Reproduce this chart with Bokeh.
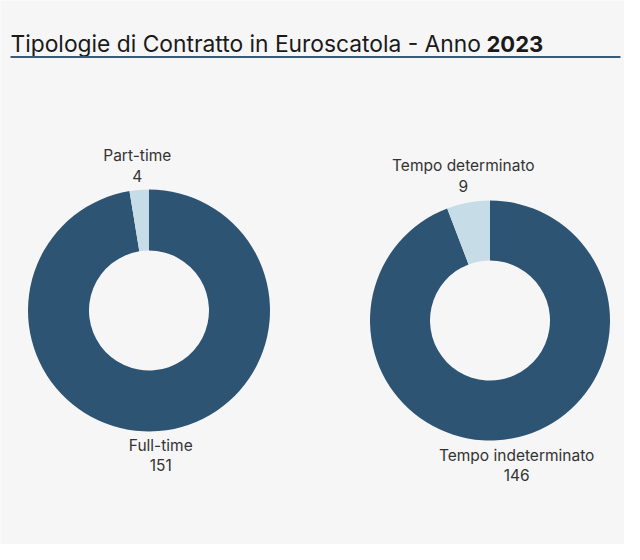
import math
from bokeh.plotting import figure
from bokeh.models import ColumnDataSource
from bokeh.core.properties import value
from bokeh.embed import file_html
from bokeh.resources import INLINE

# ---- data ----
title_main = "Tipologie di Contratto in Euroscatola - Anno "
title_year = "2023"
chart1_labels = ["Full-time", "Part-time"]
chart1_values = [151, 4]
chart2_labels = ["Tempo indeterminato", "Tempo determinato"]
chart2_values = [146, 9]
slice_colors = ["#2e5474", "#c6dce7"]

W, H = 624, 544
BG = "#f6f6f6"
FONT = "Inter"

p = figure(width=W, height=H, x_range=(0, W), y_range=(0, H),
           output_backend="svg", toolbar_location=None,
           background_fill_color=BG, border_fill_color=BG,
           min_border=0, outline_line_color=None)
p.axis.visible = False
p.grid.visible = False

def Y(y_img):
    return H - (y_img - 8)

def X(x_img):
    return x_img - 8

# title
p.text(x=[X(18)], y=[Y(51)], text=[title_main], text_font=value(FONT),
       text_font_size="22.8px", text_color="#1a1a1a", text_baseline="alphabetic")
p.text(x=[X(494)], y=[Y(51)], text=[title_year], text_font=value(FONT),
       text_font_size="22px", text_font_style="bold", text_color="#1a1a1a",
       text_baseline="alphabetic")
p.segment(x0=[X(18)], y0=[Y(64.5)], x1=[X(628)], y1=[Y(64.5)],
          line_color="#3a5a76", line_width=2)

def donut(cx, cy, r_out, r_in, labels, values, label_r):
    total = sum(values)
    starts, ends, mids = [], [], []
    a = math.pi / 2
    for v in values:
        sweep = 2 * math.pi * v / total
        starts.append(a)
        ends.append(a - sweep)
        mids.append(a - sweep / 2)
        a -= sweep
    src = ColumnDataSource(dict(start=starts, end=ends, color=slice_colors[:len(values)]))
    p.annular_wedge(x=cx, y=cy, inner_radius=r_in, outer_radius=r_out,
                    start_angle="start", end_angle="end", direction="clock",
                    fill_color="color", line_color=None, source=src)
    for lab, v, m in zip(labels, values, mids):
        lx = cx + label_r * math.cos(m)
        ly = cy + label_r * math.sin(m)
        p.text(x=[lx, lx], y=[ly + 10, ly - 10], text=[lab, str(v)],
               text_font=value(FONT), text_font_size="15.5px", text_color="#333333",
               text_align="center", text_baseline="middle")

donut(X(156.5), Y(318), 121, 60, chart1_labels, chart1_values, 145)
donut(X(497.5), Y(328), 120, 60, chart2_labels, chart2_values, 147)

open("out.html", "w").write(file_html(p, INLINE))
